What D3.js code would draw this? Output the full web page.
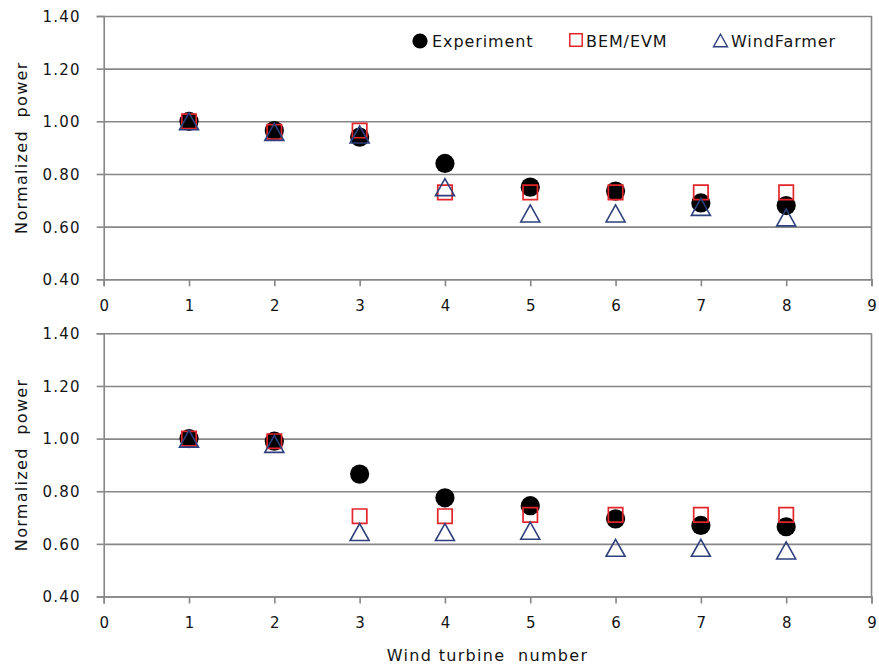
<!DOCTYPE html>
<html>
<head>
<meta charset="utf-8">
<script src="https://cdn.jsdelivr.net/npm/d3@7/dist/d3.min.js"></script>
<style>
  html, body { margin: 0; padding: 0; background: #fff; }
  svg { display: block; }
  text { font-family: "DejaVu Sans", Verdana, sans-serif; fill: #141414; }
</style>
</head>
<body>
<svg id="chart" width="879" height="665"></svg>
<script>
// Turbine index along the row and the tick values of both axes
const turbines = [1, 2, 3, 4, 5, 6, 7, 8];
const xTicks = [0, 1, 2, 3, 4, 5, 6, 7, 8, 9];
const yTicks = [0.4, 0.6, 0.8, 1.0, 1.2, 1.4];

// Upper panel: normalized power per turbine
const topExperiment = [1.00, 0.965, 0.94, 0.84, 0.75, 0.735, 0.69, 0.68];
const topBemEvm     = [1.00, 0.96, 0.965, 0.73, 0.73, 0.73, 0.73, 0.73];
const topWindFarmer = [1.00, 0.96, 0.95, 0.75, 0.65, 0.65, 0.675, 0.635];

// Lower panel: normalized power per turbine
const bottomExperiment = [1.00, 0.99, 0.865, 0.775, 0.745, 0.695, 0.67, 0.665];
const bottomBemEvm     = [1.00, 0.99, 0.705, 0.705, 0.71, 0.71, 0.71, 0.71];
const bottomWindFarmer = [1.00, 0.98, 0.645, 0.645, 0.65, 0.585, 0.585, 0.575];

const seriesNames = ["Experiment", "BEM/EVM", "WindFarmer"];

const svg = d3.select("#chart");
const gridColor = "#878787";
const red = "#e3262b";
const navy = "#2d3f7c";

const x = d3.scaleLinear().domain([0, 9]).range([103.7, 871.5]);

// Hollow triangle centred on its bounding box
function trianglePath(w, h) {
  const p = d3.path();
  p.moveTo(0, -h / 2);
  p.lineTo(w / 2, h / 2);
  p.lineTo(-w / 2, h / 2);
  p.closePath();
  return p.toString();
}
function squarePath(s) {
  const p = d3.path();
  p.rect(-s / 2, -s / 2, s, s);
  return p.toString();
}

function drawPanel(top, bottom, experiment, bem, windFarmer) {
  const y = d3.scaleLinear().domain([0.4, 1.4]).range([bottom, top]);
  const g = svg.append("g");

  // horizontal gridlines
  g.append("g")
    .attr("transform", `translate(${x(0)},0)`)
    .call(d3.axisLeft(y).tickValues(yTicks).tickSize(-(x(9) - x(0))).tickFormat(""))
    .call(a => a.select(".domain").remove())
    .call(a => a.selectAll(".tick line").attr("stroke", gridColor).attr("stroke-width", 1.6));

  // right border
  g.append("line")
    .attr("x1", x(9)).attr("x2", x(9))
    .attr("y1", y(1.4)).attr("y2", y(0.4))
    .attr("stroke", gridColor).attr("stroke-width", 1.6);

  // y axis with labels
  const yAxis = g.append("g")
    .attr("transform", `translate(${x(0)},0)`)
    .call(d3.axisLeft(y).tickValues(yTicks).tickSize(7).tickPadding(16).tickFormat(d3.format(".2f")));
  yAxis.select(".domain").attr("stroke", gridColor).attr("stroke-width", 1.6);
  yAxis.selectAll(".tick line").attr("stroke", gridColor).attr("stroke-width", 1.6);
  yAxis.selectAll(".tick text")
    .attr("font-size", 15).attr("font-family", null).attr("fill", null)
    .style("letter-spacing", "1.2px").attr("dy", "0.36em");

  // x axis with labels
  const xAxis = g.append("g")
    .attr("transform", `translate(0,${y(0.4)})`)
    .call(d3.axisBottom(x).tickValues(xTicks).tickSize(7).tickPadding(14).tickFormat(d3.format("d")));
  xAxis.select(".domain").attr("stroke", gridColor).attr("stroke-width", 1.6);
  xAxis.selectAll(".tick line").attr("stroke", gridColor).attr("stroke-width", 1.6);
  xAxis.selectAll(".tick text")
    .attr("font-size", 15).attr("font-family", null).attr("fill", null)
    .attr("dy", "0.71em");

  // y axis title
  g.append("text")
    .attr("transform", `translate(27,${(top + bottom) / 2}) rotate(-90)`)
    .attr("text-anchor", "middle")
    .attr("font-size", 16)
    .style("letter-spacing", "1.3px")
    .style("white-space", "pre")
    .text("Normalized  power");

  // Experiment: filled black circles
  g.append("g").selectAll("circle")
    .data(turbines.map((t, i) => ({ t, v: experiment[i] })))
    .join("circle")
    .attr("cx", d => x(d.t)).attr("cy", d => y(d.v))
    .attr("r", 9.6).attr("fill", "#000");

  // BEM/EVM: hollow red squares
  g.append("g").selectAll("path")
    .data(turbines.map((t, i) => ({ t, v: bem[i] })))
    .join("path")
    .attr("d", squarePath(14.4))
    .attr("transform", d => `translate(${x(d.t)},${y(d.v)})`)
    .attr("fill", "none").attr("stroke", red).attr("stroke-width", 1.7);

  // WindFarmer: hollow navy triangles
  g.append("g").selectAll("path")
    .data(turbines.map((t, i) => ({ t, v: windFarmer[i] })))
    .join("path")
    .attr("d", trianglePath(19, 17))
    .attr("transform", d => `translate(${x(d.t)},${y(d.v)})`)
    .attr("fill", "none").attr("stroke", navy).attr("stroke-width", 1.6);

  return y;
}

drawPanel(16, 279.3, topExperiment, topBemEvm, topWindFarmer);
drawPanel(333.3, 596.5, bottomExperiment, bottomBemEvm, bottomWindFarmer);

// x axis title under the lower panel
svg.append("text")
  .attr("x", (x(0) + x(9)) / 2)
  .attr("y", 661)
  .attr("text-anchor", "middle")
  .attr("font-size", 16)
  .style("letter-spacing", "1.3px")
  .style("white-space", "pre")
  .text("Wind turbine  number");

// legend inside the upper panel
const legend = svg.append("g");
const legendItems = [
  { name: seriesNames[0], mx: 420, tx: 432 },
  { name: seriesNames[1], mx: 576, tx: 586 },
  { name: seriesNames[2], mx: 720.5, tx: 731 }
];
legend.append("circle").attr("cx", legendItems[0].mx).attr("cy", 41).attr("r", 7.6).attr("fill", "#000");
legend.append("path").attr("d", squarePath(12.4))
  .attr("transform", `translate(${legendItems[1].mx},40)`)
  .attr("fill", "none").attr("stroke", red).attr("stroke-width", 1.5);
legend.append("path").attr("d", trianglePath(14, 12.5))
  .attr("transform", `translate(${legendItems[2].mx},40.5)`)
  .attr("fill", "none").attr("stroke", navy).attr("stroke-width", 1.4);
legend.selectAll("text.lg")
  .data(legendItems)
  .join("text")
  .attr("class", "lg")
  .attr("x", d => d.tx).attr("y", 46.5)
  .attr("font-size", 16)
  .style("letter-spacing", "0.9px")
  .text(d => d.name);
</script>
</body>
</html>
